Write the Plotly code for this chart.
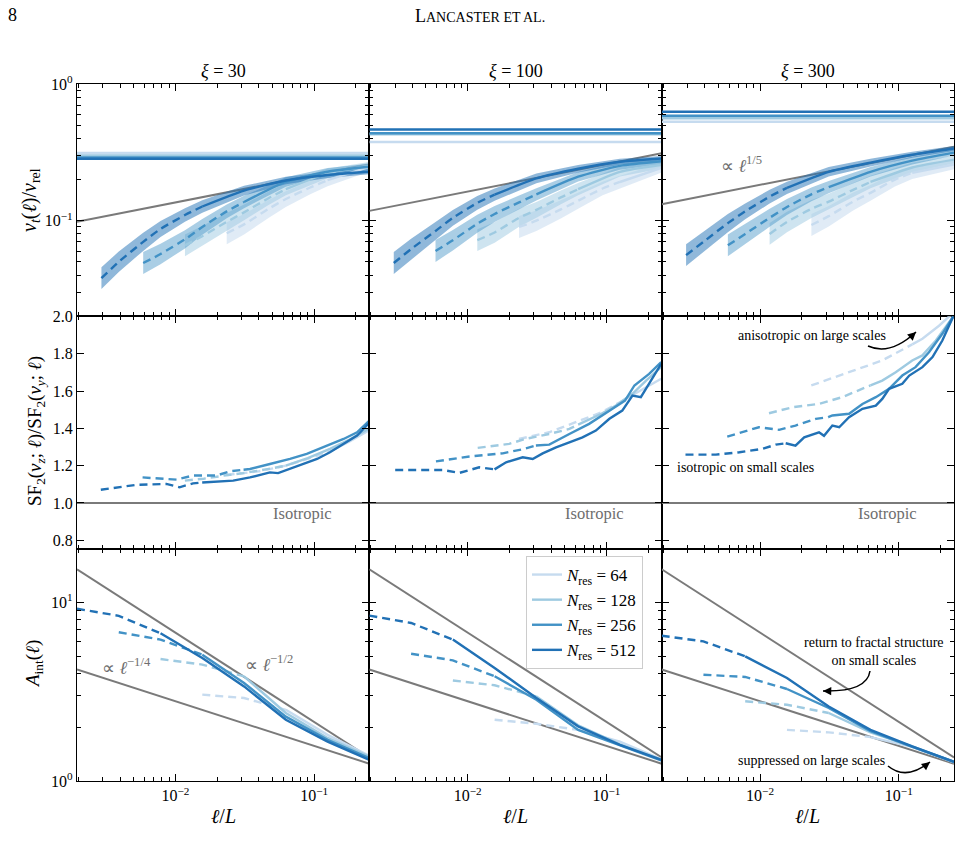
import plotly.graph_objects as go
from plotly.subplots import make_subplots

# ---------------- data ----------------
N_RES = [64, 128, 256, 512]
XI_VALUES = [30, 100, 300]
LINE_COLORS = ["#c6dbef", "#9ecae1", "#4292c6", "#2171b5"]
BAND_COLORS = ["rgba(198,219,239,0.55)", "rgba(158,202,225,0.5)",
               "rgba(66,146,198,0.45)", "rgba(33,113,181,0.5)"]
GRAY = "#7a7a7a"
X_MIN, X_MAX = 1 / 512, 0.25

# Row 1: v_t(l)/v_rel, sampled at l = k/N (cells)
K_VT = [1.5, 2, 3, 4, 6, 8, 16, 32, 64, 128]
VT_BAND_DEX = [0.08, 0.075, 0.066, 0.058, 0.05, 0.045, 0.035, 0.028, 0.022, 0.018]
VT_XI30_N64 = [0.081, 0.094, 0.122, 0.144, 0.175, 0.198, 0.248]
VT_XI30_N128 = [0.066, 0.077, 0.098, 0.115, 0.146, 0.170, 0.222, 0.252]
VT_XI30_N256 = [0.049, 0.057, 0.073, 0.090, 0.117, 0.137, 0.192, 0.228, 0.248]
VT_XI30_N512 = [0.038, 0.050, 0.070, 0.087, 0.110, 0.127, 0.166, 0.197, 0.216, 0.228]
VT_XI100_N64 = [0.090, 0.100, 0.121, 0.140, 0.172, 0.192, 0.244]
VT_XI100_N128 = [0.072, 0.082, 0.105, 0.120, 0.148, 0.170, 0.228, 0.257]
VT_XI100_N256 = [0.060, 0.072, 0.095, 0.112, 0.136, 0.156, 0.210, 0.252, 0.272]
VT_XI100_N512 = [0.049, 0.062, 0.084, 0.105, 0.135, 0.155, 0.204, 0.240, 0.270, 0.285]
VT_XI300_N64 = [0.093, 0.108, 0.138, 0.160, 0.200, 0.224, 0.258]
VT_XI300_N128 = [0.080, 0.098, 0.122, 0.138, 0.168, 0.192, 0.245, 0.280]
VT_XI300_N256 = [0.066, 0.080, 0.105, 0.126, 0.156, 0.176, 0.228, 0.275, 0.315]
VT_XI300_N512 = [0.056, 0.070, 0.096, 0.117, 0.150, 0.174, 0.228, 0.266, 0.304, 0.338]
VREL_XI30 = [0.313, 0.300, 0.290, 0.284]
VREL_XI100 = [0.377, 0.430, 0.436, 0.466]
VREL_XI300 = [0.530, 0.561, 0.586, 0.627]
VT_GUIDE_AMP = [0.098, 0.118, 0.132]   # value at l = 1/512
VT_GUIDE_SLOPE = 0.2

# Row 2: SF2(vz)/SF2(vy)
SF_XI30_N64_X = [0.0234, 0.04, 0.0625, 0.09, 0.125, 0.18, 0.25]
SF_XI30_N64_Y = [1.15, 1.17, 1.20, 1.235, 1.27, 1.33, 1.39]
SF_XI30_N128_X = [0.0117, 0.016, 0.024, 0.031, 0.045, 0.0625, 0.09, 0.13, 0.18, 0.25]
SF_XI30_N128_Y = [1.12, 1.13, 1.15, 1.16, 1.18, 1.20, 1.24, 1.29, 1.34, 1.40]
SF_XI30_N256_X = [0.0058, 0.0102, 0.0134, 0.0198, 0.0247, 0.031, 0.0345, 0.048, 0.067,
                  0.0885, 0.117, 0.163, 0.204, 0.25]
SF_XI30_N256_Y = [1.137, 1.125, 1.147, 1.147, 1.17, 1.178, 1.182, 1.209, 1.236,
                  1.263, 1.298, 1.343, 1.379, 1.442]
SF_XI30_N512_X = [0.0029, 0.0052, 0.0086, 0.0107, 0.0134, 0.0156, 0.0187, 0.0261, 0.0345,
                  0.048, 0.055, 0.067, 0.0838, 0.105, 0.130, 0.163, 0.204, 0.25]
SF_XI30_N512_Y = [1.071, 1.097, 1.102, 1.084, 1.105, 1.110, 1.114, 1.12, 1.137,
                  1.164, 1.16, 1.182, 1.209, 1.236, 1.272, 1.317, 1.361, 1.43]
SF_XI100_N64_X = [0.0234, 0.0387, 0.060, 0.092, 0.125, 0.159, 0.203, 0.248]
SF_XI100_N64_Y = [1.343, 1.379, 1.433, 1.486, 1.54, 1.585, 1.63, 1.666]
SF_XI100_N128_X = [0.0118, 0.0199, 0.026, 0.0387, 0.054, 0.0625, 0.092, 0.117, 0.154, 0.193, 0.248]
SF_XI100_N128_Y = [1.295, 1.317, 1.343, 1.37, 1.397, 1.42, 1.478, 1.522, 1.585, 1.656, 1.728]
SF_XI100_N256_X = [0.0059, 0.0103, 0.0179, 0.0256, 0.031, 0.0387, 0.054, 0.075, 0.105,
                   0.136, 0.159, 0.203, 0.248]
SF_XI100_N256_Y = [1.223, 1.249, 1.266, 1.29, 1.308, 1.313, 1.37, 1.424, 1.495,
                   1.549, 1.63, 1.692, 1.755]
SF_XI100_N512_X = [0.003, 0.0066, 0.0087, 0.0121, 0.0156, 0.0189, 0.0249, 0.0294, 0.0347,
                   0.0433, 0.054, 0.0672, 0.0839, 0.105, 0.130, 0.154, 0.177, 0.203, 0.248]
SF_XI100_N512_Y = [1.177, 1.177, 1.161, 1.191, 1.18, 1.218, 1.245, 1.236, 1.266,
                   1.298, 1.325, 1.352, 1.388, 1.451, 1.495, 1.576, 1.567, 1.639, 1.746]
SF_XI300_N64_X = [0.0234, 0.0438, 0.076, 0.125, 0.148, 0.195, 0.247]
SF_XI300_N64_Y = [1.63, 1.701, 1.764, 1.85, 1.88, 1.95, 2.02]
SF_XI300_N128_X = [0.0116, 0.0171, 0.0266, 0.039, 0.0578, 0.0625, 0.076, 0.095, 0.106,
                   0.125, 0.148, 0.185, 0.247]
SF_XI300_N128_Y = [1.481, 1.513, 1.531, 1.567, 1.62, 1.63, 1.656, 1.701, 1.728,
                   1.764, 1.791, 1.871, 2.0]
SF_XI300_N256_X = [0.0058, 0.0098, 0.0137, 0.018, 0.0252, 0.031, 0.0332, 0.0438, 0.0547,
                   0.0683, 0.0851, 0.106, 0.132, 0.165, 0.206, 0.247]
SF_XI300_N256_Y = [1.356, 1.406, 1.392, 1.415, 1.451, 1.46, 1.469, 1.478, 1.531,
                   1.567, 1.612, 1.683, 1.728, 1.808, 1.907, 2.0]
SF_XI300_N512_X = [0.0029, 0.0048, 0.0071, 0.0104, 0.013, 0.0153, 0.018, 0.0208, 0.0266,
                   0.0289, 0.0332, 0.0372, 0.0438, 0.0547, 0.0683, 0.076, 0.0851, 0.106,
                   0.119, 0.148, 0.175, 0.206, 0.247]
SF_XI300_N512_Y = [1.259, 1.259, 1.272, 1.29, 1.313, 1.32, 1.307, 1.352, 1.379,
                   1.36, 1.415, 1.406, 1.46, 1.505, 1.522, 1.558, 1.612, 1.639,
                   1.683, 1.728, 1.782, 1.871, 2.0]
SF_ISOTROPIC = 1.0

# Row 3: A_int(l), sampled at l = k/N
K_A = [1, 2, 4, 8, 16, 32, 64, 128]
A_XI30_N64 = [3.04, 2.91, 2.50, 1.81, 1.38]
A_XI30_N128 = [4.81, 4.48, 3.85, 2.40, 1.74, 1.37]
A_XI30_N256 = [6.79, 6.18, 5.09, 3.53, 2.29, 1.70, 1.34]
A_XI30_N512 = [9.2, 8.4, 6.7, 4.88, 3.38, 2.2, 1.66, 1.31]
A_XI100_N64 = [2.20, 2.09, 1.93, 1.66, 1.32]
A_XI100_N128 = [3.65, 3.43, 2.97, 2.05, 1.60, 1.31]
A_XI100_N256 = [5.15, 4.73, 3.85, 2.85, 1.93, 1.59, 1.30]
A_XI100_N512 = [8.42, 7.66, 6.18, 4.29, 2.91, 2.02, 1.59, 1.31]
A_XI300_N64 = [1.93, 1.87, 1.76, 1.55, 1.27]
A_XI300_N128 = [2.79, 2.67, 2.40, 1.87, 1.56, 1.28]
A_XI300_N256 = [3.93, 3.82, 3.27, 2.56, 1.90, 1.55, 1.28]
A_XI300_N512 = [6.5, 6.04, 4.98, 3.77, 2.61, 1.93, 1.56, 1.28]
A_GUIDE_AMP = [15.3, 4.2]       # value at l = 1/512
A_GUIDE_SLOPE = [-0.5, -0.25]

VT = [[VT_XI30_N64, VT_XI30_N128, VT_XI30_N256, VT_XI30_N512],
      [VT_XI100_N64, VT_XI100_N128, VT_XI100_N256, VT_XI100_N512],
      [VT_XI300_N64, VT_XI300_N128, VT_XI300_N256, VT_XI300_N512]]
VREL = [VREL_XI30, VREL_XI100, VREL_XI300]
SF = [[(SF_XI30_N64_X, SF_XI30_N64_Y), (SF_XI30_N128_X, SF_XI30_N128_Y),
       (SF_XI30_N256_X, SF_XI30_N256_Y), (SF_XI30_N512_X, SF_XI30_N512_Y)],
      [(SF_XI100_N64_X, SF_XI100_N64_Y), (SF_XI100_N128_X, SF_XI100_N128_Y),
       (SF_XI100_N256_X, SF_XI100_N256_Y), (SF_XI100_N512_X, SF_XI100_N512_Y)],
      [(SF_XI300_N64_X, SF_XI300_N64_Y), (SF_XI300_N128_X, SF_XI300_N128_Y),
       (SF_XI300_N256_X, SF_XI300_N256_Y), (SF_XI300_N512_X, SF_XI300_N512_Y)]]
AINT = [[A_XI30_N64, A_XI30_N128, A_XI30_N256, A_XI30_N512],
        [A_XI100_N64, A_XI100_N128, A_XI100_N256, A_XI100_N512],
        [A_XI300_N64, A_XI300_N128, A_XI300_N256, A_XI300_N512]]

# ---------------- figure ----------------
FONT = "Liberation Serif, serif"
DASH = "8px,5px"
LW = 2.4

fig = make_subplots(rows=3, cols=3, horizontal_spacing=0, vertical_spacing=0)


def split(xs, ys, xcut):
    i = max(j for j, x in enumerate(xs) if x <= xcut * 1.01)
    return (xs[:i + 1], ys[:i + 1]), (xs[i:], ys[i:])


for c in range(3):
    col = c + 1
    # ---- row 1
    for i, n in enumerate(N_RES):
        fig.add_trace(go.Scatter(x=[X_MIN, X_MAX], y=[VREL[c][i]] * 2, mode="lines",
                                 line=dict(color=LINE_COLORS[i], width=2.5),
                                 showlegend=False, hoverinfo="skip"), row=1, col=col)
    amp = VT_GUIDE_AMP[c]
    gx = [X_MIN, X_MAX]
    fig.add_trace(go.Scatter(x=gx, y=[amp * (x / X_MIN) ** VT_GUIDE_SLOPE for x in gx],
                             mode="lines", line=dict(color=GRAY, width=2),
                             showlegend=False, hoverinfo="skip"), row=1, col=col)
    for i, n in enumerate(N_RES):
        xs = [k / n for k in K_VT if k / n <= X_MAX + 1e-9]
        ys = VT[c][i]
        bw = VT_BAND_DEX[:len(xs)]
        up = [y * 10 ** b for y, b in zip(ys, bw)]
        lo = [y / 10 ** b for y, b in zip(ys, bw)]
        fig.add_trace(go.Scatter(x=xs + xs[::-1], y=up + lo[::-1], fill="toself",
                                 fillcolor=BAND_COLORS[i], line=dict(width=0),
                                 mode="lines", showlegend=False, hoverinfo="skip"),
                      row=1, col=col)
    for i, n in enumerate(N_RES):
        xs = [k / n for k in K_VT if k / n <= X_MAX + 1e-9]
        (dx, dy), (sx, sy) = split(xs, VT[c][i], 8 / n)
        fig.add_trace(go.Scatter(x=dx, y=dy, mode="lines", line=dict(color=LINE_COLORS[i], width=LW,
                                 dash=DASH, shape="spline", smoothing=0.6), showlegend=False),
                      row=1, col=col)
        fig.add_trace(go.Scatter(x=sx, y=sy, mode="lines", line=dict(color=LINE_COLORS[i], width=LW,
                                 shape="spline", smoothing=0.6), showlegend=False), row=1, col=col)
    # ---- row 2
    fig.add_trace(go.Scatter(x=[X_MIN, X_MAX], y=[SF_ISOTROPIC] * 2, mode="lines",
                             line=dict(color=GRAY, width=2), showlegend=False,
                             hoverinfo="skip"), row=2, col=col)
    for i, n in enumerate(N_RES):
        xs, ys = SF[c][i]
        (dx, dy), (sx, sy) = split(xs, ys, 8 / n)
        fig.add_trace(go.Scatter(x=dx, y=dy, mode="lines", line=dict(color=LINE_COLORS[i], width=LW,
                                 dash=DASH), showlegend=False), row=2, col=col)
        fig.add_trace(go.Scatter(x=sx, y=sy, mode="lines", line=dict(color=LINE_COLORS[i], width=LW),
                                 showlegend=False), row=2, col=col)
    # ---- row 3
    for amp, sl in zip(A_GUIDE_AMP, A_GUIDE_SLOPE):
        fig.add_trace(go.Scatter(x=gx, y=[amp * (x / X_MIN) ** sl for x in gx], mode="lines",
                                 line=dict(color=GRAY, width=2), showlegend=False,
                                 hoverinfo="skip"), row=3, col=col)
    for i, n in enumerate(N_RES):
        xs = [k / n for k in K_A if k / n <= X_MAX + 1e-9]
        (dx, dy), (sx, sy) = split(xs, AINT[c][i], 4 / n)
        fig.add_trace(go.Scatter(x=dx, y=dy, mode="lines", line=dict(color=LINE_COLORS[i], width=LW,
                                 dash=DASH), showlegend=False), row=3, col=col)
        fig.add_trace(go.Scatter(x=sx, y=sy, mode="lines", line=dict(color=LINE_COLORS[i], width=LW),
                                 name=f"<i>N</i><sub>res</sub> = {n}", legendgroup=str(n),
                                 showlegend=(c == 0)), row=3, col=col)

# ---------------- axes ----------------
TICKFONT = dict(family=FONT, size=16, color="black")
base = dict(showline=True, linecolor="black", linewidth=1.2, mirror="ticks",
            ticks="inside", ticklen=7, tickwidth=1, tickcolor="black",
            showgrid=False, zeroline=False, tickfont=TICKFONT)
minor_x = [m * 10 ** e for e in (-3, -2, -1) for m in range(2, 10) if X_MIN <= m * 10 ** e <= X_MAX]
for r in range(1, 4):
    for c in range(1, 4):
        fig.update_xaxes(type="log", range=[-2.7093, -0.60206], tickmode="array",
                         tickvals=[0.01, 0.1], ticktext=["10<sup>−2</sup>", "10<sup>−1</sup>"],
                         showticklabels=(r == 3),
                         minor=dict(ticks="inside", ticklen=4, tickwidth=0.8, tickcolor="black",
                                    tickmode="array", tickvals=minor_x, showgrid=False),
                         row=r, col=c, **base)
        if r == 1:
            fig.update_yaxes(type="log", range=[-1.7, 0.0005], tickmode="array",
                             tickvals=[0.1, 1], ticktext=["10<sup>−1</sup>", "10<sup>0</sup>"],
                             minor=dict(ticks="inside", ticklen=4, tickwidth=0.8, tickcolor="black",
                                        tickmode="array",
                                        tickvals=[m * 10 ** e for e in (-2, -1) for m in range(2, 10)],
                                        showgrid=False),
                             showticklabels=(c == 1), row=r, col=c, **base)
        elif r == 2:
            fig.update_yaxes(type="linear", range=[0.755, 2.0005], tickmode="array",
                             tickvals=[0.8, 1.0, 1.2, 1.4, 1.6, 1.8, 2.0],
                             ticktext=["0.8", "1.0", "1.2", "1.4", "1.6", "1.8", "2.0"],
                             showticklabels=(c == 1), row=r, col=c, **base)
        else:
            fig.update_yaxes(type="log", range=[-0.0005, 1.3], tickmode="array",
                             tickvals=[1, 10], ticktext=["10<sup>0</sup>", "10<sup>1</sup>"],
                             minor=dict(ticks="inside", ticklen=4, tickwidth=0.8, tickcolor="black",
                                        tickmode="array", tickvals=list(range(2, 10)),
                                        showgrid=False),
                             showticklabels=(c == 1), row=r, col=c, **base)

# ---------------- text & annotations ----------------
PL, PT, PW, PH = 77, 84, 877, 697


def P(x, y):
    return (x - PL) / PW, (PT + PH - y) / PH


ann = []


def text(x, y, s, size=15, color="black", angle=0, xanchor="center"):
    px, py = P(x, y)
    ann.append(dict(x=px, y=py, xref="paper", yref="paper", text=s, showarrow=False,
                    font=dict(family=FONT, size=size, color=color), textangle=angle,
                    xanchor=xanchor, yanchor="middle"))


text(12, 15, "8", size=18)
text(480, 16, "L<span style='font-size:14px'>ANCASTER ET AL.</span>", size=18)
for c, xi in enumerate(XI_VALUES):
    cx = PL + PW / 6 * (2 * c + 1)
    text(cx, 71, f"<i>ξ</i> = {xi}", size=18)
    text(cx, 816, "<i>ℓ</i>/<i>L</i>", size=20)
text(31, 200, "<i>v<sub>t</sub></i>(<i>ℓ</i>)/<i>v</i><sub>rel</sub>", size=20, angle=-90)
text(36, 431, "SF<sub>2</sub>(<i>v<sub>z</sub></i>; <i>ℓ</i>)/SF<sub>2</sub>(<i>v<sub>y</sub></i>; <i>ℓ</i>)",
     size=19, angle=-90)
text(34, 664, "<i>A</i><sub>int</sub>(<i>ℓ</i>)", size=19, angle=-90)

text(741, 164, "∝ <i>ℓ</i><sup>1/5</sup>", size=18, color="#6e6e6e")
for cx in (302, 594, 887):
    text(cx, 513, "Isotropic", size=16.5, color="#6e6e6e")
text(812, 335, "anisotropic on large scales", size=14)
text(745, 467, "isotropic on small scales", size=14)
text(126, 666, "∝ <i>ℓ</i><sup>−1/4</sup>", size=18, color="#6e6e6e")
text(269, 663, "∝ <i>ℓ</i><sup>−1/2</sup>", size=18, color="#6e6e6e")
text(874, 651, "return to fractal structure<br>on small scales", size=14)
text(811, 760, "suppressed on large scales", size=14)

shapes = []
arrows = [((868, 346), (890, 356), (916, 332)),
          ((870, 671), (867, 692), (823, 691)),
          ((888, 766), (906, 781), (930, 762))]
for (x0, y0), (cx_, cy_), (x1, y1) in arrows:
    a0, b0 = P(x0, y0)
    a1, b1 = P(cx_, cy_)
    a2, b2 = P(x1, y1)
    shapes.append(dict(type="path", xref="paper", yref="paper",
                       path=f"M {a0},{b0} Q {a1},{b1} {a2},{b2}",
                       line=dict(color="black", width=1.5)))
    tx, ty = x1 - cx_, y1 - cy_
    norm = (tx ** 2 + ty ** 2) ** 0.5
    ann.append(dict(x=a2, y=b2, xref="paper", yref="paper", text="", showarrow=True,
                    ax=-tx / norm * 9, ay=-ty / norm * 9, arrowhead=2, arrowsize=1.1,
                    arrowwidth=1.5, arrowcolor="black"))

lx, ly = P(526, 556)
fig.update_layout(
    width=963, height=854,
    margin=dict(l=PL, r=963 - PL - PW, t=PT, b=854 - PT - PH),
    paper_bgcolor="white", plot_bgcolor="white",
    font=dict(family=FONT, size=15, color="black"),
    annotations=ann, shapes=shapes,
    legend=dict(x=lx, y=ly, xanchor="left", yanchor="top", bgcolor="white",
                bordercolor="#cccccc", borderwidth=1, font=dict(family=FONT, size=17),
                itemwidth=30, tracegroupgap=0),
)

fig.write_html("out.html")
